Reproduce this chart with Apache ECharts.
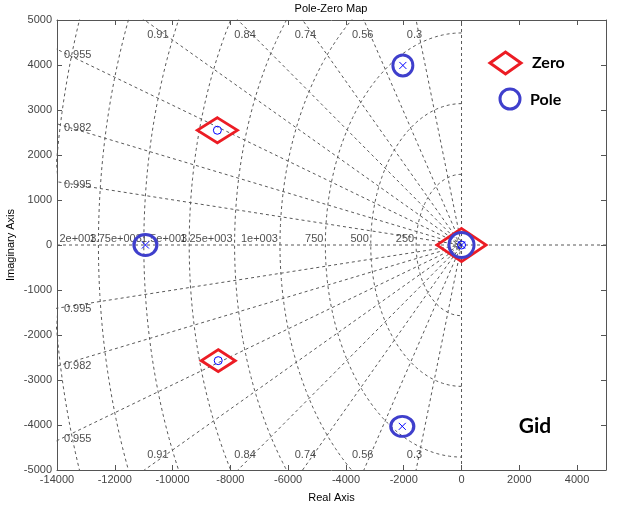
<!DOCTYPE html>
<html><head><meta charset="utf-8">
<script src="https://cdn.jsdelivr.net/npm/echarts@6/dist/echarts.min.js"></script>
<style>html,body{margin:0;padding:0;background:#fff}#c{width:624px;height:510px}</style>
</head><body><div id="c"></div>
<script>
// ---- data ----
const zeroRe = [-8450, -8420, 0];
const zeroIm = [2550, -2570, 0];
const poleRe = [-2030, -2050, -10940, 0];
const poleIm = [3990, -4030, 0, 0];
const dampingRatios = [0.3, 0.56, 0.74, 0.84, 0.91, 0.955, 0.982, 0.995];
const dampingLabels = ['0.3', '0.56', '0.74', '0.84', '0.91', '0.955', '0.982', '0.995'];
const freqHz = [250, 500, 750, 1000, 1250, 1500, 1750, 2000, 2250];
const freqLabels = ['250', '500', '750', '1e+003', '1.25e+003', '1.5e+003', '1.75e+003', '2e+003'];
const legendTexts = ['Zero', 'Pole'];
const noteText = 'Gid';

// ---- styles ----
const FONT = 'Liberation Sans, Arial, sans-serif';
const gridLine = { color: '#595959', width: 1, type: [3, 3] };
const RED = '#ec1c24', BLUE = '#3f3fcc';
const zeroHiSize = [[40, 25], [34, 22], [49, 33]];
const poleHiSize = [[20, 21], [23, 20], [23, 21], [25, 25]];

const series = [];
// frequency arcs
freqHz.forEach(f => {
  const r = 2 * Math.PI * f;
  const pts = [];
  for (let a = 90; a <= 270; a += 1) {
    const t = a * Math.PI / 180;
    pts.push([r * Math.cos(t), r * Math.sin(t)]);
  }
  series.push({ type: 'line', data: pts, symbol: 'none', lineStyle: gridLine, silent: true, animation: false, z: 1 });
});
// damping rays
const R = 60000;
dampingRatios.forEach(z => {
  const s = Math.sqrt(1 - z * z);
  series.push({ type: 'line', data: [[-z * R, s * R], [0, 0], [-z * R, -s * R]], symbol: 'none', lineStyle: gridLine, silent: true, animation: false, z: 1 });
});
// real and imaginary axis lines
series.push({ type: 'line', data: [[-14000, 0], [5000, 0]], symbol: 'none', lineStyle: gridLine, silent: true, animation: false, z: 1 });
series.push({ type: 'line', data: [[0, -5000], [0, 5000]], symbol: 'none', lineStyle: gridLine, silent: true, animation: false, z: 1 });

// grid labels
const labelPts = [];
dampingRatios.forEach((z, i) => {
  const k = Math.sqrt(1 - z * z) / z;
  if (i < 5) {
    const y = 4667;
    [y, -y].forEach(yy => labelPts.push({ name: dampingLabels[i], value: [-y / k, yy], label: { position: 'left', distance: 0, offset: [3, 0] } }));
  } else {
    const x = -13760;
    [1, -1].forEach(sg => labelPts.push({ name: dampingLabels[i], value: [x, -x * k * sg], label: { position: 'right', distance: 0, offset: [0, 2] } }));
  }
});
freqLabels.forEach((t, i) => {
  labelPts.push({ name: t, value: [-2 * Math.PI * freqHz[i], 0], label: { position: 'left', distance: 2, offset: [0, -6] } });
});
series.push({
  type: 'scatter', data: labelPts, symbolSize: 0, silent: true, animation: false, z: 2,
  label: { show: true, formatter: p => p.name, color: '#222', fontSize: 11, fontFamily: FONT }
});

// highlight markers
series.push({
  type: 'scatter', data: zeroRe.map((x, i) => [x, zeroIm[i]]), symbol: 'diamond',
  symbolSize: (v, p) => zeroHiSize[p.dataIndex], animation: false, z: 3,
  itemStyle: { color: 'transparent', borderColor: RED, borderWidth: 3, opacity: 1 }
});
series.push({
  type: 'scatter', data: poleRe.map((x, i) => [x, poleIm[i]]), symbol: 'circle',
  symbolSize: (v, p) => poleHiSize[p.dataIndex], animation: false, z: 4,
  itemStyle: { color: 'transparent', borderColor: BLUE, borderWidth: 3, opacity: 1 }
});
// matlab markers
series.push({
  type: 'scatter', data: zeroRe.map((x, i) => [x, zeroIm[i]]), symbol: 'circle', symbolSize: 8,
  animation: false, z: 5, itemStyle: { color: 'transparent', borderColor: '#0000ff', borderWidth: 1, opacity: 1 }
});
series.push({
  type: 'scatter', data: poleRe.map((x, i) => [x, poleIm[i]]), symbol: 'path://M0,0L10,10M10,0L0,10', symbolSize: 7,
  animation: false, z: 5, itemStyle: { color: '#0000ff', borderColor: '#0000ff', borderWidth: 1, opacity: 1 }
});

function axisCommon() {
  return {
    type: 'value',
    axisLine: { show: true, onZero: false, lineStyle: { color: '#555', width: 1 } },
    axisTick: { show: true, inside: true, length: 5, lineStyle: { color: '#555' } },
    splitLine: { show: false }
  };
}
const plain = v => String(v);
const xb = Object.assign(axisCommon(), {
  min: -14000, max: 5000, interval: 2000, position: 'bottom',
  axisLabel: { showMaxLabel: false, color: '#444', fontSize: 11, fontFamily: FONT, margin: 4, formatter: plain },
  name: 'Real Axis', nameLocation: 'middle', nameGap: 22, nameMoveOverlap: false,
  nameTextStyle: { color: '#000', fontSize: 11, fontFamily: FONT }
});
const xt = Object.assign(axisCommon(), { min: -14000, max: 5000, interval: 2000, position: 'top', axisLabel: { show: false } });
const yl = Object.assign(axisCommon(), {
  min: -5000, max: 5000, interval: 1000, position: 'left',
  axisLabel: { color: '#444', fontSize: 11, fontFamily: FONT, margin: 5, formatter: plain },
  name: 'Imaginary Axis', nameLocation: 'middle', nameGap: 41, nameRotate: 90, nameMoveOverlap: false,
  nameTextStyle: { color: '#000', fontSize: 11, fontFamily: FONT }
});
const yr = Object.assign(axisCommon(), { min: -5000, max: 5000, interval: 1000, position: 'right', axisLabel: { show: false } });

const chart = echarts.init(document.getElementById('c'), null, { renderer: 'canvas' });
chart.setOption({
  animation: false,
  backgroundColor: '#fff',
  grid: { left: 57, right: 18, top: 20, bottom: 40, containLabel: false, outerBoundsMode: 'none' },
  xAxis: [xb, xt],
  yAxis: [yl, yr],
  series: series,
  graphic: [
    { type: 'text', x: 331, y: 9, style: { text: 'Pole-Zero Map', fill: '#000', font: '11px ' + FONT, align: 'center', verticalAlign: 'middle' } },
    { type: 'polygon', shape: { points: [[490, 63], [505.5, 52], [521, 63], [505.5, 74]] }, style: { fill: 'none', stroke: RED, lineWidth: 3 } },
    { type: 'ellipse', shape: { cx: 510, cy: 99, rx: 10, ry: 10 }, style: { fill: 'none', stroke: BLUE, lineWidth: 3 } },
    { type: 'text', x: 532, y: 63, style: { text: legendTexts[0], fill: '#000', font: 'bold 16px Lato, sans-serif', align: 'left', verticalAlign: 'middle' } },
    { type: 'text', x: 530, y: 100, style: { text: legendTexts[1], fill: '#000', font: 'bold 16px Lato, sans-serif', align: 'left', verticalAlign: 'middle' } },
    { type: 'text', x: 535, y: 426, style: { text: noteText, fill: '#000', font: 'bold 21px Lato, sans-serif', align: 'center', verticalAlign: 'middle' } }
  ]
});
</script></body></html>
